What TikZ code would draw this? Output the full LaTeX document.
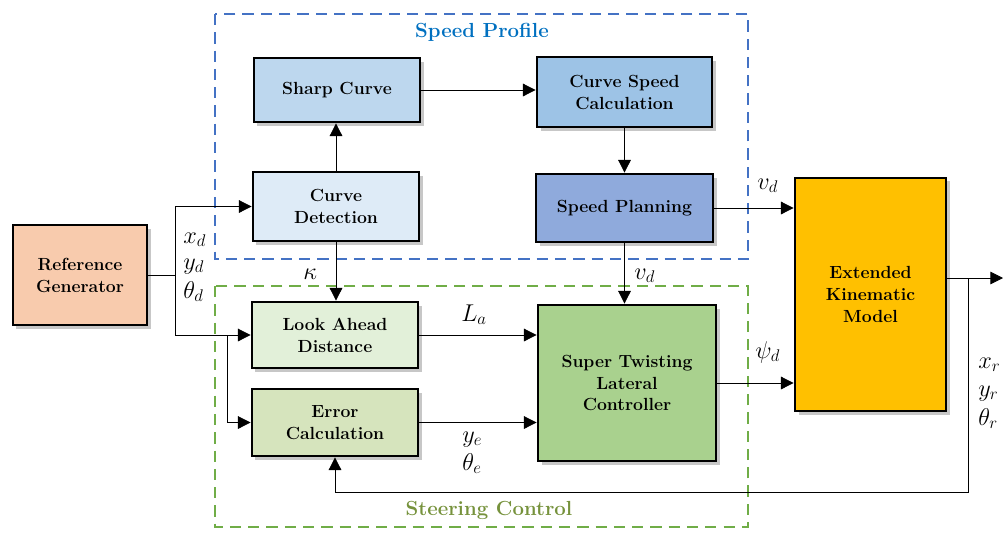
\documentclass[tikz,border=0pt]{standalone}
\usetikzlibrary{arrows.meta,shadows}
\definecolor{cref}{RGB}{248,203,173}
\definecolor{csharp}{RGB}{189,215,238}
\definecolor{cspd}{RGB}{157,195,230}
\definecolor{cdetc}{RGB}{222,235,247}
\definecolor{cplan}{RGB}{143,170,220}
\definecolor{clook}{RGB}{226,240,217}
\definecolor{cerr}{RGB}{214,228,189}
\definecolor{cstw}{RGB}{169,209,142}
\definecolor{cekm}{RGB}{255,192,0}
\definecolor{dblue}{RGB}{68,114,196}
\definecolor{dgreen}{RGB}{112,173,71}
\definecolor{tblue}{RGB}{0,112,192}
\definecolor{tgreen}{RGB}{118,146,60}
\begin{document}
\begin{tikzpicture}[x=0.025cm,y=-0.025cm,
  blk/.style={draw=black,line width=2pt,align=center,inner sep=2pt,
    font=\fontsize{12.5}{15.6}\selectfont\bfseries,
    drop shadow={shadow xshift=2.5pt,shadow yshift=-2.5pt,fill=black,opacity=0.22}},
  arr/.style={draw=black,line width=0.6pt,-{Triangle[length=9pt,width=9pt]}},
  ln/.style={draw=black,line width=0.6pt},
  grp/.style={line width=1.6pt,dash pattern=on 8pt off 5pt},
  lbl/.style={font=\fontsize{18}{20}\selectfont,inner sep=0pt,anchor=base west},
  ttl/.style={font=\fontsize{14.5}{17}\selectfont\bfseries,inner sep=0pt}]
\useasboundingbox (0,0) rectangle (1003,534);
% group boxes
\draw[grp,dblue] (215,14) rectangle (748,259);
\draw[grp,dgreen] (215,286) rectangle (748,527);
\node[ttl,text=tblue] (tsp) at (482,32) {Speed Profile};
\node[ttl,text=tgreen] (tsc) at (489,510) {Steering Control};
% blocks
\node[blk,fill=cref,minimum width=3.35cm,minimum height=2.5cm] (ref) at (80,275) {Reference\\Generator};
\node[blk,fill=csharp,minimum width=4.15cm,minimum height=1.6cm] (sharp) at (337,90) {Sharp Curve};
\node[blk,fill=cspd,minimum width=4.375cm,minimum height=1.75cm] (cspeed) at (624.5,92) {Curve Speed\\Calculation};
\node[blk,fill=cdetc,minimum width=4.15cm,minimum height=1.725cm] (cdet) at (336,206.5) {Curve\\Detection};
\node[blk,fill=cplan,minimum width=4.425cm,minimum height=1.7cm] (splan) at (624.5,208) {Speed Planning};
\node[blk,fill=clook,minimum width=4.15cm,minimum height=1.65cm] (look) at (335,335) {Look Ahead\\Distance};
\node[blk,fill=cerr,minimum width=4.15cm,minimum height=1.675cm] (err) at (335,422.5) {Error\\Calculation};
\node[blk,fill=cstw,minimum width=4.45cm,minimum height=3.9cm] (stw) at (627,383) {Super Twisting\\Lateral\\Controller};
\node[blk,fill=cekm,minimum width=3.775cm,minimum height=5.825cm] (ekm) at (870.5,294.5) {Extended\\Kinematic\\Model};
% connectors
\coordinate (j1) at (175,275);
\coordinate (j2) at (227,335);
\draw[ln] (ref.east) -- (j1);
\draw[arr] (j1) |- (cdet.west);
\draw[arr] (j1) |- (look.west);
\draw[arr] (j2) |- (err.west);
\draw[arr] (cdet.north) -- (cdet.north |- sharp.south);
\draw[arr] (sharp.east) -- (sharp.east -| cspeed.west);
\draw[arr] (cspeed.south) -- (cspeed.south |- splan.north);
\draw[arr] (splan.east) -- (splan.east -| ekm.west);
\draw[arr] (cdet.south) -- (cdet.south |- look.north);
\draw[arr] (splan.south) -- (splan.south |- stw.north);
\draw[arr] (look.east) -- (look.east -| stw.west);
\draw[arr] (err.east) -- (err.east -| stw.west);
\draw[arr] (stw.east) -- (stw.east -| ekm.west);
\coordinate (eo) at (ekm.east |- 0,278);
\coordinate (out) at (1003,278);
\coordinate (fb) at (968,278);
\coordinate (fbc) at (968,492);
\draw[arr] (eo) -- (out);
\draw[arr] (fb) -- (fbc) -| (err.south);
% labels
\node[lbl] (lxd) at (183,243) {$x_d$};
\node[lbl] (lyd) at (183,269) {$y_d$};
\node[lbl] (ltd) at (183,298) {$\theta_d$};
\node[lbl] (lxr) at (978,368) {$x_r$};
\node[lbl] (lyr) at (978,396) {$y_r$};
\node[lbl] (ltr) at (978,425) {$\theta_r$};
\node[lbl] (lv1) at (757,189) {$v_d$};
\node[lbl] (lv2) at (634,279) {$v_d$};
\node[lbl] (lk) at (303,279) {$\kappa$};
\node[lbl] (lla) at (461,321) {$L_a$};
\node[lbl] (lpsi) at (755,358) {$\psi_d$};
\node[lbl] (lye) at (462,442) {$y_e$};
\node[lbl] (lte) at (462,470) {$\theta_e$};
\end{tikzpicture}
\end{document}
